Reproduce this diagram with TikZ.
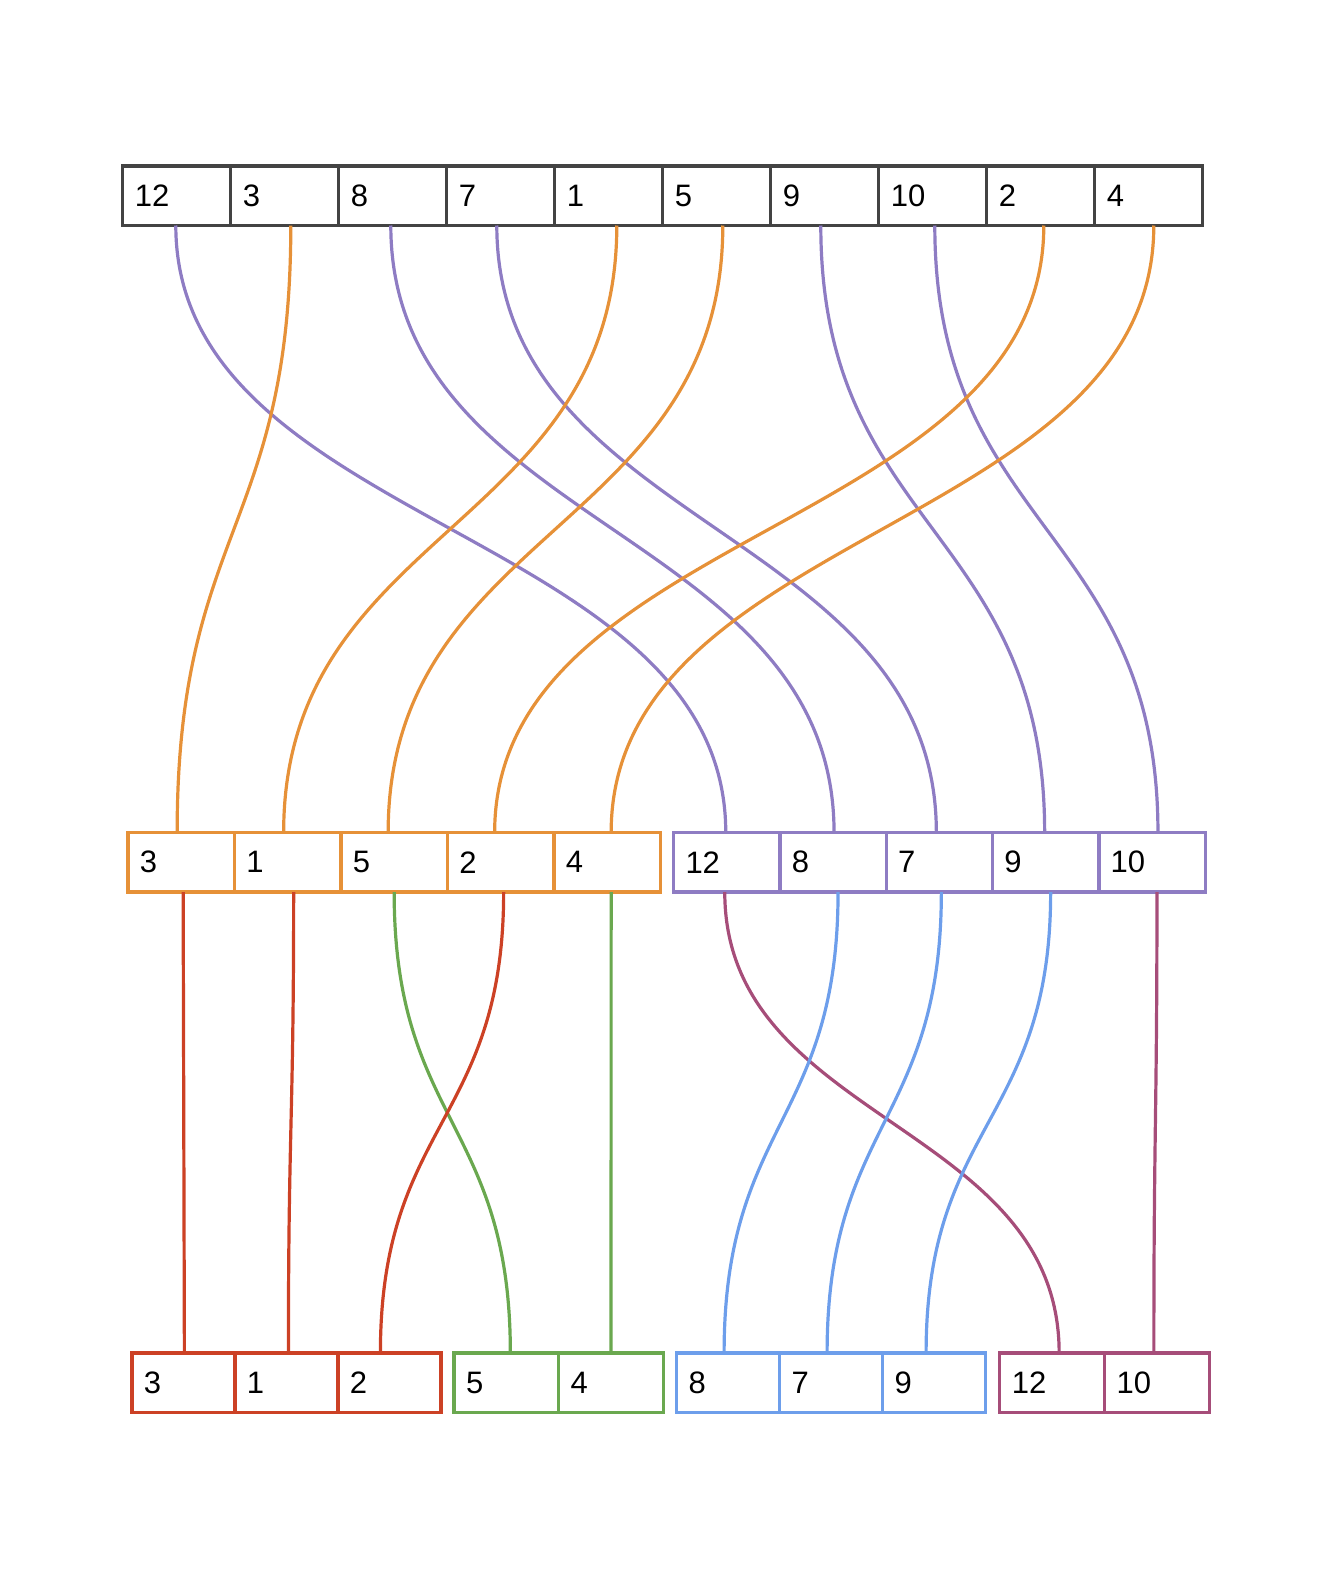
\documentclass[tikz,border=0pt]{standalone}
\usepackage{fontspec}
\setmainfont{Liberation Sans}
\usepackage{tikz}
\usetikzlibrary{calc}
\definecolor{frame}{HTML}{434343}
\definecolor{amber}{HTML}{E69138}
\definecolor{lavender}{HTML}{8E7CC3}
\definecolor{brick}{HTML}{CC4125}
\definecolor{leaf}{HTML}{6AA84F}
\definecolor{sky}{HTML}{6D9EEB}
\definecolor{plum}{HTML}{A64D79}

\begin{document}
\begin{tikzpicture}[
    x=0.5pt, y=-0.5pt,
    cell/.style={rectangle, draw=#1, line width=1.6pt, anchor=west, outer sep=0pt,
                 inner xsep=6pt, minimum height=29.75pt, align=left,
                 font=\fontsize{15.5}{18}\selectfont},
    wire/.style={line width=1.6pt}
]
\useasboundingbox (0,0) rectangle (1333,1579);

% Input row
\foreach \v [count=\i from 0] in {12,3,8,7,1,5,9,10,2,4}
  \node[cell=frame, text width=42pt] (top\v) at ({122.8+\i*108}, 195.75) {\v};

% Middle row
\foreach \v [count=\i from 0] in {3,1,5,2,4}
  \node[cell=amber, text width=41.25pt] (mid\v) at ({127.9+\i*106.5}, 862.3) {\v};
\foreach \v [count=\i from 0] in {12,8,7,9,10}
  \node[cell=lavender, text width=41.25pt] (mid\v) at ({673.5+\i*106.3}, 862.3) {\v};

% Bottom row
\foreach \v [count=\i from 0] in {3,1,2}
  \node[cell=brick, text width=39.5pt] (bot\v) at ({131.9+\i*103}, 1382.75) {\v};
\foreach \v [count=\i from 0] in {5,4}
  \node[cell=leaf, text width=40.35pt] (bot\v) at ({454+\i*104.7}, 1382.75) {\v};
\foreach \v [count=\i from 0] in {8,7,9}
  \node[cell=sky, text width=39.5pt] (bot\v) at ({676.6+\i*103}, 1382.75) {\v};
\foreach \v [count=\i from 0] in {12,10}
  \node[cell=plum, text width=40.35pt] (bot\v) at ({999.8+\i*104.7}, 1382.75) {\v};

% Top to middle (value/colour/shift at top/shift at middle)
\foreach \v/\c/\a/\b in {12/lavender/-0.5/-0.5, 3/amber/3/-2, 8/lavender/-1/0.5,
                         7/lavender/-2/-1.5, 1/amber/4/-2, 5/amber/3/-3,
                         9/lavender/-2/-0.5, 10/lavender/1/3, 2/amber/1.5/-3,
                         4/amber/2.5/2} {
  \path ([xshift=\a pt]top\v.south) coordinate (p) ([xshift=\b pt]mid\v.north) coordinate (q);
  \path ($(p)!.5!(q)$) coordinate (m);
  \draw[wire, \c] (p) .. controls (p |- m) and (q |- m) .. (q);
}

% Middle to bottom
\foreach \v/\c/\a/\b in {3/brick/1/0.5, 1/brick/3/1, 5/leaf/0/2, 2/brick/1.5/-4.5,
                         4/leaf/2/0, 12/plum/-1/3.5, 8/sky/2.5/-2, 7/sky/1/-2,
                         9/sky/2.5/-4, 10/plum/2.5/-1.5} {
  \path ([xshift=\a pt]mid\v.south) coordinate (p) ([xshift=\b pt]bot\v.north) coordinate (q);
  \path ($(p)!.5!(q)$) coordinate (m);
  \draw[wire, \c] (p) .. controls (p |- m) and (q |- m) .. (q);
}

\end{tikzpicture}
\end{document}
